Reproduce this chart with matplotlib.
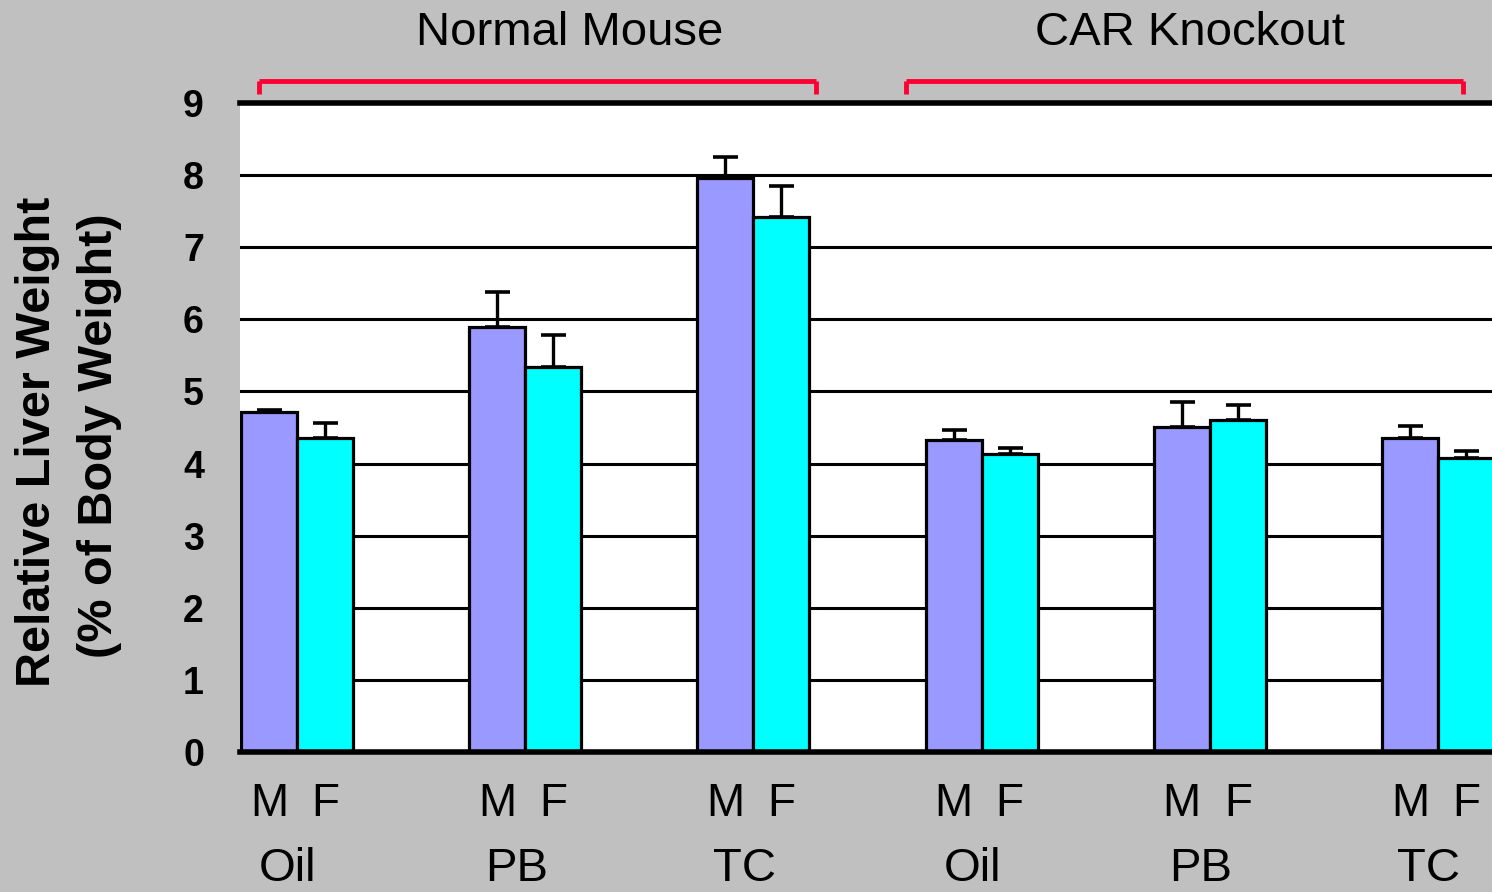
import matplotlib
matplotlib.use("Agg")
import matplotlib.pyplot as plt
import matplotlib.transforms as mtransforms
import numpy as np

plt.rcParams['font.family'] = ['Liberation Sans', 'DejaVu Sans']

treatments = ["Oil", "PB", "TC", "Oil", "PB", "TC"]
strains = ["Normal Mouse", "CAR Knockout"]
male_vals = [4.72, 5.89, 7.96, 4.32, 4.51, 4.36]
male_err = [0.02, 0.49, 0.30, 0.15, 0.34, 0.16]
female_vals = [4.36, 5.34, 7.42, 4.13, 4.61, 4.08]
female_err = [0.20, 0.45, 0.43, 0.09, 0.20, 0.09]
yticks = list(range(0, 10))

fig = plt.figure(figsize=(14.92, 8.92), dpi=100)
fig.patch.set_facecolor('#C0C0C0')
ax = fig.add_axes([0.1609, 0.1573, 0.8391, 0.7269])
ax.set_facecolor('white')

x = np.arange(len(treatments))
w = 0.2456
mx = x - w / 2
fx = x + w / 2

for yv in yticks[1:-1]:
    ax.axhline(yv, color='black', lw=2.2, zorder=1)

ax.bar(mx, male_vals, width=w, color='#9999FF', edgecolor='black', lw=2.3, zorder=3)
ax.bar(fx, female_vals, width=w, color='#00FFFF', edgecolor='black', lw=2.3, zorder=3)
ax.errorbar(mx, male_vals, yerr=[np.zeros(len(male_vals)), male_err], fmt='none',
            ecolor='black', elinewidth=2.4, capsize=9, capthick=2.6, zorder=4)
ax.errorbar(fx, female_vals, yerr=[np.zeros(len(female_vals)), female_err], fmt='none',
            ecolor='black', elinewidth=2.4, capsize=9, capthick=2.6, zorder=4)

ax.set_xlim(-0.25, 5.237)
ax.set_ylim(0, 9)
ax.set_yticks(yticks)
ax.set_yticklabels([str(v) for v in yticks], fontsize=27, fontweight='bold')
ax.tick_params(axis='y', length=0, pad=26)

for s in ['left', 'right']:
    ax.spines[s].set_visible(False)
ax.spines['top'].set_linewidth(4)
ax.spines['bottom'].set_linewidth(4)
ax.spines['top'].set_zorder(5)
ax.spines['bottom'].set_zorder(5)

ticks = list(mx) + list(fx)
labels = ['M'] * len(mx) + ['F'] * len(fx)
ax.set_xticks(ticks)
ax.set_xticklabels(labels, fontsize=33)
ax.tick_params(axis='x', length=0, pad=22)

trans = mtransforms.blended_transform_factory(ax.transData, fig.transFigure)
for xi, t in zip(x, treatments):
    ax.text(xi - 0.04, 0.026, t, transform=trans, ha='center', va='center', fontsize=34, clip_on=False)

# group headers with red brackets
ax.text(1.196, 0.963, strains[0], transform=trans, ha='center', va='center', fontsize=34)
ax.text(3.913, 0.963, strains[1], transform=trans, ha='center', va='center', fontsize=34)
for x0, x1 in [(-0.167, 2.274), (2.669, 5.11)]:
    ax.plot([x0, x1], [9.31, 9.31], color='#FF0033', lw=3.5, clip_on=False, solid_capstyle='butt')
    ax.plot([x0, x0], [9.31, 9.13], color='#FF0033', lw=3.5, clip_on=False, solid_capstyle='butt')
    ax.plot([x1, x1], [9.31, 9.13], color='#FF0033', lw=3.5, clip_on=False, solid_capstyle='butt')

fig.text(0.025, 0.505, "Relative Liver Weight", rotation=90, ha='center', va='center',
         fontsize=35, fontweight='bold')
fig.text(0.067, 0.512, "(% of Body Weight)", rotation=90, ha='center', va='center',
         fontsize=35, fontweight='bold')

fig.savefig('out.png', dpi=100, facecolor=fig.get_facecolor())
